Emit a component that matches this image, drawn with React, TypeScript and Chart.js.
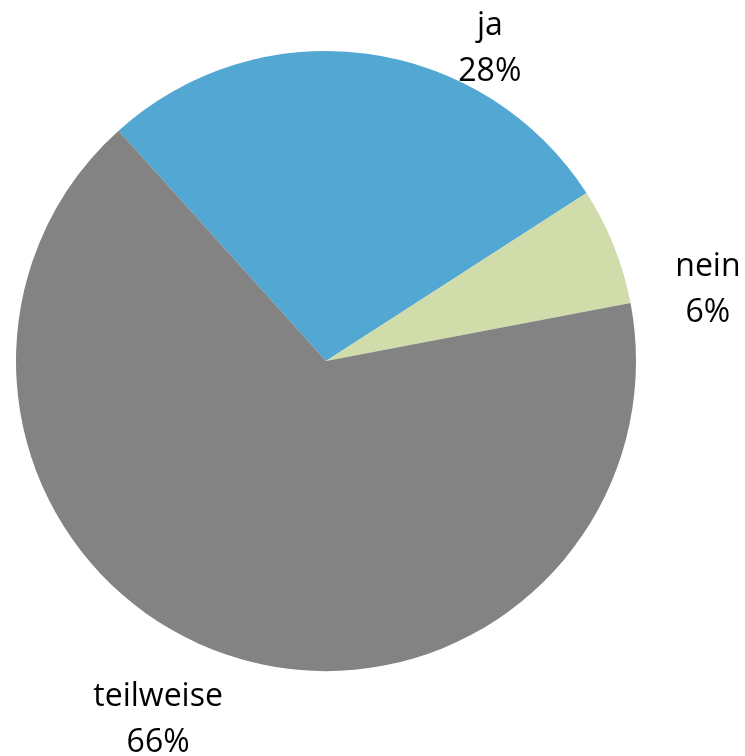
import React, { useEffect, useRef } from "react";
import { Chart, registerables } from "chart.js";

Chart.register(...registerables);

const categories = ["ja", "nein", "teilweise"];
const values = [27, 6, 65];
const colors = ["#52A7D3", "#D0DCAA", "#838383"];
// label anchor: polar angle (deg, clockwise from top) and distance factor of radius
const labelAngles = [28.4, 80.8, 204.5];
const labelDist = [1.111, 1.248, 1.306];

const FONT = '"Open Sans", sans-serif';

const labelPlugin = {
  id: "outerLabels",
  afterDatasetsDraw(chart: any) {
    const ctx = chart.ctx;
    const meta = chart.getDatasetMeta(0);
    const total = values.reduce((a, b) => a + b, 0);
    ctx.save();
    ctx.font = `32px ${FONT}`;
    ctx.fillStyle = "#000000";
    ctx.textAlign = "center";
    ctx.textBaseline = "alphabetic";
    meta.data.forEach((arc: any, i: number) => {
      const { x, y, outerRadius } = arc.getProps(["x", "y", "outerRadius"], true);
      const a = (labelAngles[i] * Math.PI) / 180;
      const d = outerRadius * labelDist[i];
      const lx = x + Math.sin(a) * d;
      const ly = y - Math.cos(a) * d;
      const pct = Math.round((values[i] / total) * 100) + "%";
      ctx.fillText(categories[i], lx, ly - 23);
      ctx.fillText(pct, lx, ly + 23);
    });
    ctx.restore();
  },
};

export default function App() {
  const ref = useRef<HTMLCanvasElement | null>(null);
  useEffect(() => {
    document.body.style.margin = "0";
    const chart = new Chart(ref.current as HTMLCanvasElement, {
      type: "pie",
      data: {
        labels: categories,
        datasets: [
          {
            data: values,
            backgroundColor: colors,
            borderWidth: 0,
          },
        ],
      },
      options: {
        responsive: false,
        animation: false,
        rotation: -42,
        layout: { padding: { left: 16, right: 109, top: 51, bottom: 85 } },
        plugins: {
          legend: { display: false },
          tooltip: { enabled: false },
        },
      },
      plugins: [labelPlugin],
    });
    return () => chart.destroy();
  }, []);
  return (
    <div style={{ width: 745, height: 756, background: "#ffffff" }}>
      <canvas ref={ref} width={745} height={756} style={{ display: "block" }} />
    </div>
  );
}
